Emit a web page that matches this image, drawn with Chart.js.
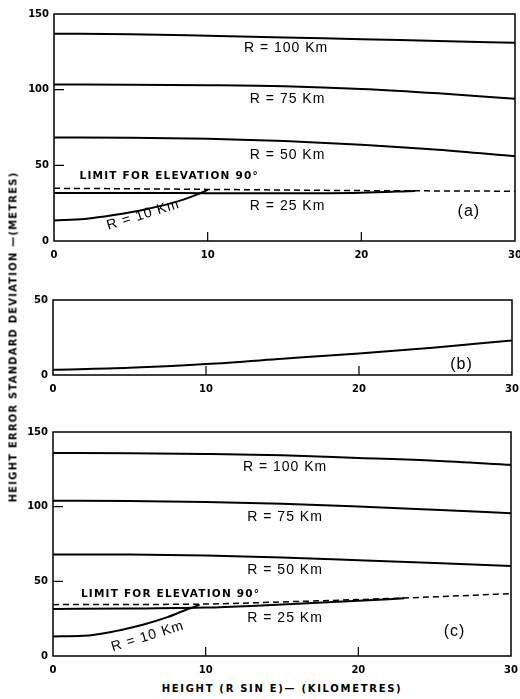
<!DOCTYPE html>
<html lang="en">
<head>
    <meta charset="UTF-8">
    <title>Height Error Standard Deviation</title>
    <script src="https://cdn.jsdelivr.net/npm/chart.js"></script>
    <style>
        body {
            margin: 0;
            width: 520px;
            height: 699px;
            overflow: hidden;
            background: #fff;
            position: relative;
        }

        canvas {
            position: absolute;
            left: 0;
        }

        .axis-title {
            position: absolute;
            white-space: nowrap;
            font: bold 10px "DejaVu Sans", sans-serif;
            letter-spacing: 1.2px;
            color: #000;
            transform: translate(-50%, -50%);
        }

        #yTitle {
            left: 13px;
            top: 337px;
            transform: translate(-50%, -50%) rotate(-90deg);
        }

        #xTitle {
            left: 282px;
            top: 688px;
            letter-spacing: 1.7px;
        }
    </style>
</head>
<body>

<canvas id="chartA" width="540" height="267" style="top: 0;"></canvas>
<canvas id="chartB" width="540" height="115" style="top: 286px;"></canvas>
<canvas id="chartC" width="540" height="264" style="top: 418px;"></canvas>

<div class="axis-title" id="yTitle">HEIGHT ERROR STANDARD DEVIATION —(METRES)</div>
<div class="axis-title" id="xTitle">HEIGHT (R SIN E)— (KILOMETRES)</div>

<script>
    // x values shared by the long curves (height, km)
    const hX = [0, 5, 10, 15, 20, 25, 30];

    // panel (a)
    const aR100 = [137, 136.6, 135.6, 134.5, 133.3, 132.2, 131];
    const aR75 = [103.4, 103.3, 103, 102.3, 100.5, 97.6, 94];
    const aR50 = [68.4, 68.2, 67.5, 66, 63.6, 60.3, 56];
    const aLimit = [34.8, 34.5, 34.1, 33.7, 33.3, 33.1, 32.9];
    const aR25X = [0, 5, 10, 15, 20, 23.5];
    const aR25 = [31.8, 31.8, 31.6, 31.5, 31.9, 33.1];
    const aR10X = [0, 2, 4, 6, 8, 9, 10];
    const aR10 = [13.6, 14.6, 17.3, 21, 26, 29.5, 33.8];

    // panel (b)
    const bY = [3.5, 4.8, 7.3, 10.8, 14.4, 18.4, 23];

    // panel (c)
    const cR100 = [136, 135.8, 135.3, 134.4, 132.6, 130.8, 128];
    const cR75 = [104, 103.8, 103.2, 102, 100.1, 97.9, 95.6];
    const cR50 = [68, 67.9, 67.3, 66, 64.2, 62.3, 60.2];
    const cLimit = [34.4, 34.5, 34.8, 36.2, 37.8, 39.6, 41.8];
    const cR25X = [0, 5, 10, 13, 16, 20, 23];
    const cR25 = [31.5, 31.8, 32.4, 33.5, 35, 37, 38.6];
    const cR10X = [0, 2, 4, 6, 7.5, 8.8, 9.6];
    const cR10 = [13.1, 13.5, 16.5, 21.3, 26, 31.3, 34.2];

    const curveFont = '14px "Liberation Sans", Arial, sans-serif';
    const limitFont = 'bold 10.5px "DejaVu Sans", sans-serif';
    const tagFont = '16px "Liberation Sans", Arial, sans-serif';

    function pts(xs, ys) {
        return xs.map((x, i) => ({x: x, y: ys[i]}));
    }

    function line(xs, ys, dashed) {
        return {
            data: pts(xs, ys),
            borderColor: '#000',
            borderWidth: dashed ? 1.5 : 2,
            borderDash: dashed ? [6, 4] : [],
            pointRadius: 0,
            fill: false,
            cubicInterpolationMode: 'monotone'
        };
    }

    // box round the plot, inward tick marks and the curve labels
    const framePlugin = {
        id: 'frame',
        afterDatasetsDraw(chart, args, opts) {
            const {ctx, chartArea: a, scales: {x, y}} = chart;
            ctx.save();
            ctx.strokeStyle = '#000';
            ctx.lineWidth = 1.5;
            ctx.strokeRect(a.left, a.top, a.right - a.left, a.bottom - a.top);

            ctx.lineWidth = 1.2;
            ctx.beginPath();
            x.ticks.forEach(t => {
                if (t.value > x.min && t.value < x.max) {
                    const px = x.getPixelForValue(t.value);
                    ctx.moveTo(px, a.bottom);
                    ctx.lineTo(px, a.bottom - 9);
                }
            });
            y.ticks.forEach(t => {
                if (t.value > y.min && t.value < y.max) {
                    const py = y.getPixelForValue(t.value);
                    ctx.moveTo(a.left, py);
                    ctx.lineTo(a.left + 10, py);
                }
            });
            ctx.stroke();

            ctx.fillStyle = '#000';
            ctx.textAlign = 'center';
            ctx.textBaseline = 'middle';
            (opts.labels || []).forEach(l => {
                ctx.save();
                ctx.translate(x.getPixelForValue(l.x), y.getPixelForValue(l.y));
                ctx.rotate((l.rot || 0) * Math.PI / 180);
                ctx.font = l.font;
                ctx.letterSpacing = l.spacing || '0px';
                ctx.fillText(l.text, 0, 0);
                ctx.restore();
            });
            ctx.restore();
        }
    };

    function makePanel(id, datasets, yMax, labels, pad, yWidth) {
        const tickFont = {family: '"DejaVu Sans", sans-serif', size: 10, weight: 'bold'};
        return new Chart(document.getElementById(id), {
            type: 'line',
            data: {datasets: datasets},
            plugins: [framePlugin],
            options: {
                responsive: false,
                animation: false,
                events: [],
                layout: {padding: {left: 0, right: pad, top: 14, bottom: 0}},
                plugins: {
                    legend: {display: false},
                    tooltip: {enabled: false},
                    frame: {labels: labels}
                },
                scales: {
                    x: {
                        type: 'linear',
                        min: 0,
                        max: 30,
                        ticks: {stepSize: 10, padding: 8, color: '#000', font: tickFont},
                        grid: {display: false, drawTicks: false},
                        border: {display: false},
                        afterFit: s => { s.height = 26; }
                    },
                    y: {
                        type: 'linear',
                        min: 0,
                        max: yMax,
                        ticks: {stepSize: 50, padding: 5, color: '#000', font: tickFont},
                        grid: {display: false, drawTicks: false},
                        border: {display: false},
                        afterFit: s => { s.width = yWidth; }
                    }
                }
            }
        });
    }

    const limitText = 'LIMIT FOR ELEVATION 90°';

    makePanel('chartA', [
        line(hX, aR100),
        line(hX, aR75),
        line(hX, aR50),
        line(hX, aLimit, true),
        line(aR25X, aR25),
        line(aR10X, aR10)
    ], 150, [
        {text: 'R = 100 Km', x: 15.1, y: 127.5, font: curveFont, spacing: '1px'},
        {text: 'R = 75 Km', x: 15.2, y: 93.5, font: curveFont, spacing: '1px'},
        {text: 'R = 50 Km', x: 15.2, y: 56.8, font: curveFont, spacing: '1px'},
        {text: 'R = 25 Km', x: 15.2, y: 22.8, font: curveFont, spacing: '1px'},
        {text: limitText, x: 7.5, y: 43, font: limitFont, spacing: '1.2px'},
        {text: 'R = 10 Km', x: 5.8, y: 17.2, rot: -17, font: curveFont, spacing: '1px'},
        {text: '(a)', x: 27, y: 19.2, font: tagFont, spacing: '1px'}
    ], 25, 54);

    makePanel('chartB', [
        line(hX, bY)
    ], 50, [
        {text: '(b)', x: 26.7, y: 6.7, font: tagFont, spacing: '1px'}
    ], 28, 53);

    makePanel('chartC', [
        line(hX, cR100),
        line(hX, cR75),
        line(hX, cR50),
        line(hX, cLimit, true),
        line(cR25X, cR25),
        line(cR10X, cR10)
    ], 150, [
        {text: 'R = 100 Km', x: 15.2, y: 126.5, font: curveFont, spacing: '1px'},
        {text: 'R = 75 Km', x: 15.2, y: 93.2, font: curveFont, spacing: '1px'},
        {text: 'R = 50 Km', x: 15.2, y: 57.4, font: curveFont, spacing: '1px'},
        {text: 'R = 25 Km', x: 15.2, y: 25.4, font: curveFont, spacing: '1px'},
        {text: limitText, x: 7.7, y: 41.3, font: limitFont, spacing: '1.2px'},
        {text: 'R = 10 Km', x: 6.2, y: 13.1, rot: -17, font: curveFont, spacing: '1px'},
        {text: '(c)', x: 26.3, y: 16.4, font: tagFont, spacing: '1px'}
    ], 29, 53);
</script>

</body>
</html>
